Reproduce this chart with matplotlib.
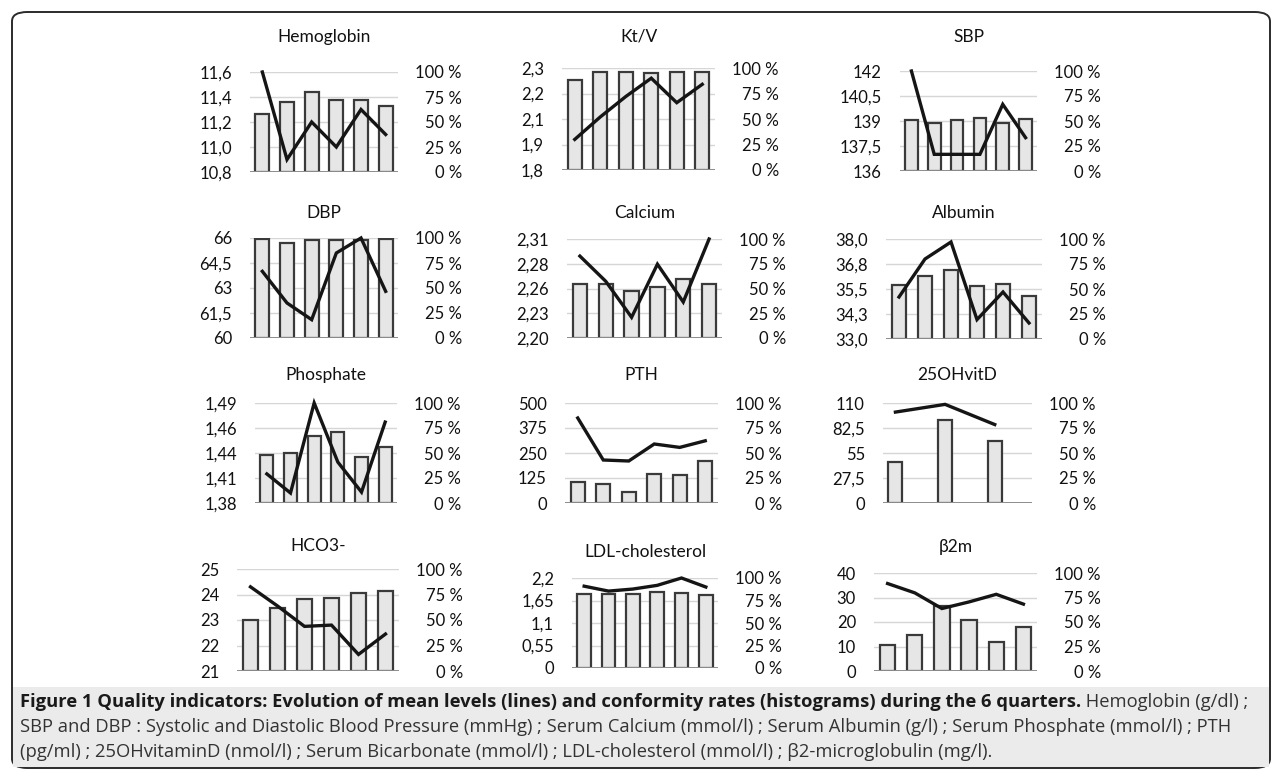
import numpy as np
import matplotlib
matplotlib.use("Agg")
import matplotlib.pyplot as plt
from matplotlib.patches import FancyBboxPatch, Rectangle

plt.rcParams['font.family'] = ['Lato', 'DejaVu Sans']

# ---------------- data ----------------
panel_names = ['Hemoglobin', 'Kt/V', 'SBP', 'DBP', 'Calcium', 'Albumin',
               'Phosphate', 'PTH', '25OHvitD', 'HCO3-', 'LDL-cholesterol', 'β2m']

hb_mean = [11.6, 10.9, 11.2, 11.0, 11.3, 11.1]
hb_pct = [58, 70, 80, 72, 72, 66]
ktv_mean = [1.95, 2.06, 2.16, 2.25, 2.13, 2.22]
ktv_pct = [88, 96, 96, 95, 96, 96]
sbp_mean = [142, 137, 137, 137, 140, 138]
sbp_pct = [51, 48, 51, 53, 48, 52]
dbp_mean = [64.0, 62.1, 61.1, 65.1, 66.0, 62.8]
dbp_pct = [99, 95, 98, 98, 98, 99]
ca_mean = [2.291, 2.263, 2.223, 2.282, 2.240, 2.31]
ca_pct = [55, 55, 47, 52, 60, 55]
alb_mean = [35.1, 37.0, 37.85, 33.97, 35.35, 33.8]
alb_pct = [54, 63, 69, 53, 55, 43]
phos_mean = [1.412, 1.391, 1.49, 1.425, 1.392, 1.469]
phos_pct = [48, 50, 67, 71, 46, 56]
pth_mean = [425, 215, 210, 295, 278, 311]
pth_pct = [21.5, 19, 11, 29, 28, 42]
vitd_mean = [100, np.nan, 108.5, np.nan, 86.3, np.nan]
vitd_pct = [41, np.nan, 83, np.nan, 62, np.nan]
hco3_mean = [24.3, 23.55, 22.75, 22.8, 21.65, 22.45]
hco3_pct = [50, 62, 71, 72, 76, 78]
ldl_mean = [2.0, 1.88, 1.93, 2.02, 2.2, 1.98]
ldl_pct = [82, 82, 82, 84, 83, 81]
b2m_mean = [35.7, 31.9, 25.5, 28.2, 31.3, 27.3]
b2m_pct = [27, 37, 66, 52, 30, 45]

# left axis ranges and tick labels
hb_range = (10.8, 11.6);  hb_ticks = ['10,8', '11,0', '11,2', '11,4', '11,6']
ktv_range = (1.8, 2.3);   ktv_ticks = ['1,8', '1,9', '2,1', '2,2', '2,3']
sbp_range = (136, 142);   sbp_ticks = ['136', '137,5', '139', '140,5', '142']
dbp_range = (60, 66);     dbp_ticks = ['60', '61,5', '63', '64,5', '66']
ca_range = (2.20, 2.31);  ca_ticks = ['2,20', '2,23', '2,26', '2,28', '2,31']
alb_range = (33, 38);     alb_ticks = ['33,0', '34,3', '35,5', '36,8', '38,0']
phos_range = (1.38, 1.49); phos_ticks = ['1,38', '1,41', '1,44', '1,46', '1,49']
pth_range = (0, 500);     pth_ticks = ['0', '125', '250', '375', '500']
vitd_range = (0, 110);    vitd_ticks = ['0', '27,5', '55', '82,5', '110']
hco3_range = (21, 25);    hco3_ticks = ['21', '22', '23', '24', '25']
ldl_range = (0, 2.2);     ldl_ticks = ['0', '0,55', '1,1', '1,65', '2,2']
b2m_range = (0, 40);      b2m_ticks = ['0', '10', '20', '30', '40']

pct_ticks = ['0 %', '25 %', '50 %', '75 %', '100 %']

caption_bold = ("Figure 1 Quality indicators: Evolution of mean levels (lines) and "
                "conformity rates (histograms) during the 6 quarters.")
caption_l1 = " Hemoglobin (g/dl) ;"
caption_l2 = ("SBP and DBP : Systolic and Diastolic Blood Pressure (mmHg) ; Serum Calcium (mmol/l) ; "
              "Serum Albumin (g/l) ; Serum Phosphate (mmol/l) ; PTH")
caption_l3 = ("(pg/ml) ; 25OHvitaminD (nmol/l) ; Serum Bicarbonate (mmol/l) ; "
              "LDL-cholesterol (mmol/l) ; β2-microglobulin (mg/l).")

panels = [
    (hb_mean, hb_pct, hb_range, hb_ticks),
    (ktv_mean, ktv_pct, ktv_range, ktv_ticks),
    (sbp_mean, sbp_pct, sbp_range, sbp_ticks),
    (dbp_mean, dbp_pct, dbp_range, dbp_ticks),
    (ca_mean, ca_pct, ca_range, ca_ticks),
    (alb_mean, alb_pct, alb_range, alb_ticks),
    (phos_mean, phos_pct, phos_range, phos_ticks),
    (pth_mean, pth_pct, pth_range, pth_ticks),
    (vitd_mean, vitd_pct, vitd_range, vitd_ticks),
    (hco3_mean, hco3_pct, hco3_range, hco3_ticks),
    (ldl_mean, ldl_pct, ldl_range, ldl_ticks),
    (b2m_mean, b2m_pct, b2m_range, b2m_ticks),
]

# ---------------- layout (pixels: left, right, top, bottom, title_y) ----------------
W, H = 1282, 778
layout = [
    (250, 398, 72, 172, 37), (562, 715, 68, 170, 37), (900, 1037, 71, 171, 37),
    (250, 398, 238, 338, 213), (567, 722, 239, 338, 213), (886, 1042, 239, 339, 213),
    (255, 397, 403, 503, 375), (565, 718, 403, 503, 375), (883, 1032, 403, 503, 375),
    (237, 399, 569, 671, 546), (572, 718, 578, 668, 552), (874, 1037, 573, 671, 547),
]

fig = plt.figure(figsize=(W / 100, H / 100), dpi=100)

# outer rounded box and caption band
box = FancyBboxPatch((12 / W, 10 / H), (W - 24) / W, (H - 22) / H,
                     boxstyle="round,pad=0,rounding_size=0.012",
                     transform=fig.transFigure, facecolor='white',
                     edgecolor='#2b2b2b', linewidth=1.4, zorder=-2)
fig.patches.append(box)
band = Rectangle((13 / W, 11 / H), (W - 26) / W, 80 / H, transform=fig.transFigure,
                 facecolor='#ebebeb', edgecolor='none', zorder=-1)
fig.patches.append(band)

x = np.arange(6)
tick_fs = 12
for name, (mean, pct, rng, lticks), (l, r, t, b, ty) in zip(panel_names, panels, layout):
    axb = fig.add_axes([l / W, 1 - b / H, (r - l) / W, (b - t) / H])
    axl = axb.twinx()
    for a in (axb, axl):
        a.patch.set_visible(False)
        a.set_xticks([])
        for s in a.spines.values():
            s.set_visible(False)

    # conformity rates (bars, right axis)
    axb.set_xlim(-0.5, 5.5)
    axb.set_ylim(0, 100)
    pct_arr = np.array(pct, dtype=float)
    ok = ~np.isnan(pct_arr)
    axb.bar(x[ok], pct_arr[ok], width=0.56, color='#e6e6e6', edgecolor='#3a3a3a',
            linewidth=1.6, zorder=3)
    for gy in np.linspace(0, 100, 5)[1:]:
        axb.axhline(gy, color='#d6d6d6', linewidth=1.0, zorder=1)
    axb.axhline(0, color='#8c8c8c', linewidth=1.4, zorder=4)
    axb.set_yticks(np.linspace(0, 100, 5))
    axb.set_yticklabels(pct_ticks, fontsize=tick_fs, color='#111111')
    axb.yaxis.tick_right()
    axb.tick_params(axis='y', which='both', left=False, labelleft=False,
                    right=True, labelright=True, length=0, pad=46)
    for lab in axb.get_yticklabels():
        lab.set_horizontalalignment('right')

    # mean levels (line, left axis)
    axl.set_ylim(*rng)
    mean_arr = np.array(mean, dtype=float)
    okm = ~np.isnan(mean_arr)
    axl.plot(x[okm], mean_arr[okm], color='#151515', linewidth=2.4,
             solid_joinstyle='miter', zorder=5, clip_on=False)
    axl.set_yticks(np.linspace(rng[0], rng[1], 5))
    axl.set_yticklabels(lticks, fontsize=tick_fs, color='#111111')
    axl.yaxis.tick_left()
    axl.tick_params(axis='y', which='both', right=False, labelright=False,
                    left=True, labelleft=True, length=0, pad=13)

    fig.text(((l + r) / 2) / W, 1 - ty / H, name, ha='center', va='center',
             fontsize=12.5, color='#111111')

# caption
cap_font = ['Open Sans', 'DejaVu Sans']
cap_fs = 13.2
cx = 20 / W
t1 = fig.text(cx, 1 - 702 / H, caption_bold, fontsize=cap_fs, fontweight='bold',
              family=cap_font, color='#1a1a1a', va='center', ha='left')
fig.canvas.draw()
ext = t1.get_window_extent(renderer=fig.canvas.get_renderer())
fig.text(ext.x1 / W, 1 - 702 / H, caption_l1, fontsize=cap_fs, family=cap_font,
         color='#333333', va='center', ha='left')
fig.text(cx, 1 - 727 / H, caption_l2, fontsize=cap_fs, family=cap_font,
         color='#333333', va='center', ha='left')
fig.text(cx, 1 - 752 / H, caption_l3, fontsize=cap_fs, family=cap_font,
         color='#333333', va='center', ha='left')

fig.savefig('out.png', dpi=100)
